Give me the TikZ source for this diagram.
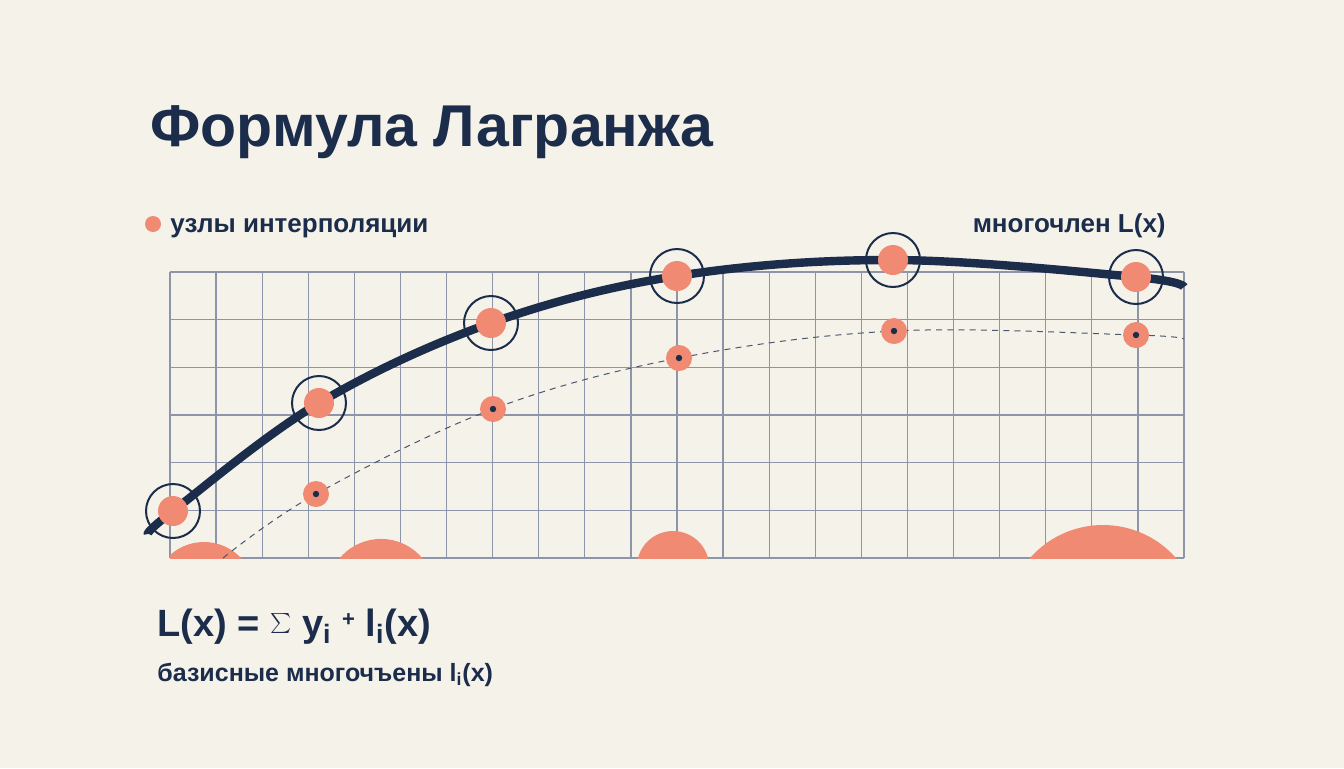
\documentclass[tikz,border=0pt]{standalone}
\usepackage{fontspec}
\setmainfont{Liberation Sans}
\definecolor{navy}{HTML}{1B2D4B}
\definecolor{coral}{HTML}{F08A72}
\definecolor{paper}{HTML}{F5F2EA}
\definecolor{gridline}{HTML}{8D96A8}

\begin{document}
\begin{tikzpicture}[x=0.5pt, y=-0.5pt,
    knot/.style={circle, fill=coral, minimum size=15pt, inner sep=0pt},
    ring/.style={circle, draw=navy, line width=1pt, minimum size=27pt, inner sep=0pt},
    sample/.style={circle, fill=coral, minimum size=13pt, inner sep=0pt},
    hub/.style={circle, fill=navy, minimum size=3.2pt, inner sep=0pt},
    label/.style={text=navy, font=\fontsize{13}{15}\selectfont\bfseries, inner sep=0pt}]

% Canvas
\useasboundingbox (0,0) rectangle (1344,768);
\fill[paper] (0,0) rectangle (1344,768);

% Grid frame
\def\gx{170}
\def\gy{272}
\def\dx{46.09}
\def\dy{47.67}
\foreach \i in {0,...,22}
    \draw[gridline, line width=0.65pt] ({\gx+\i*\dx},272) -- ({\gx+\i*\dx},558);
\foreach \j in {0,...,6}
    \draw[gridline, line width=0.65pt] (170,{\gy+\j*\dy}) -- (1184,{\gy+\j*\dy});

% Basis bumps along the bottom edge
\begin{scope}
    \clip (170,272) rectangle (1184,558);
    \fill[coral] (204,592.8) circle[radius=25.4pt];
    \fill[coral] (381,592.7) circle[radius=26.9pt];
    \fill[coral] (673,567.2) circle[radius=18.1pt];
    \fill[coral] (1103,622.2) circle[radius=48.6pt];
\end{scope}

% Knots of L(x) and samples
\coordinate (k0) at (148,534);
\coordinate (k1) at (173,511);
\coordinate (k2) at (319,403);
\coordinate (k3) at (491,323);
\coordinate (k4) at (677,276);
\coordinate (k5) at (893,260);
\coordinate (k6) at (1136,277);
\coordinate (k7) at (1184,287);
\coordinate (s0) at (223,558);
\coordinate (s1) at (316,494);
\coordinate (s2) at (493,409);
\coordinate (s3) at (679,358);
\coordinate (s4) at (894,331);
\coordinate (s5) at (1136,335);
\coordinate (s6) at (1184,339);

% Dashed lower curve
\draw[navy!80, line width=0.5pt, dash pattern=on 3pt off 2.6pt]
    plot[smooth, tension=0.6] coordinates {(s0) (s1) (s2) (s3) (s4) (s5) (s6)};

% Interpolating polynomial
\draw[navy, line width=4.2pt]
    plot[smooth, tension=0.6] coordinates {(k0) (k1) (k2) (k3) (k4) (k5) (k6) (k7)};

\foreach \n in {1,...,6} {
    \node[knot] (dot\n) at (k\n) {};
    \node[ring] (ring\n) at (k\n) {};
}
\foreach \n in {1,...,5} {
    \node[sample] (samp\n) at (s\n) {};
    \node[hub] (hub\n) at (s\n) {};
}

% Title
\node[anchor=base west, inner sep=0pt, text=navy,
    font=\fontsize{29.5}{34}\selectfont\bfseries] (title) at (150,146)
    {Формула Лагранжа};

% Legend
\node[circle, fill=coral, minimum size=8pt, inner sep=0pt] (legdot) at (153,224) {};
\node[label, anchor=base west] (leglabel) at (170,232) {узлы интерполяции};
\node[label, anchor=base east] (polylabel) at (1166,232) {многочлен L(x)};

% Formula under the plot
\node[anchor=base west, inner sep=0pt, text=navy,
    font=\fontsize{19}{22}\selectfont\bfseries] (formula) at (157,636)
    {L(x) = {\fontsize{24}{24}\selectfont$\sum$} y\textsubscript{i}
     \raisebox{5pt}{\fontsize{11}{11}\selectfont+} l\textsubscript{i}(x)};
\node[anchor=base west, inner sep=0pt, text=navy,
    font=\fontsize{12.5}{15}\selectfont\bfseries] (basis) at (157,681)
    {базисные многочъены l\textsubscript{i}(x)};

\end{tikzpicture}
\end{document}
